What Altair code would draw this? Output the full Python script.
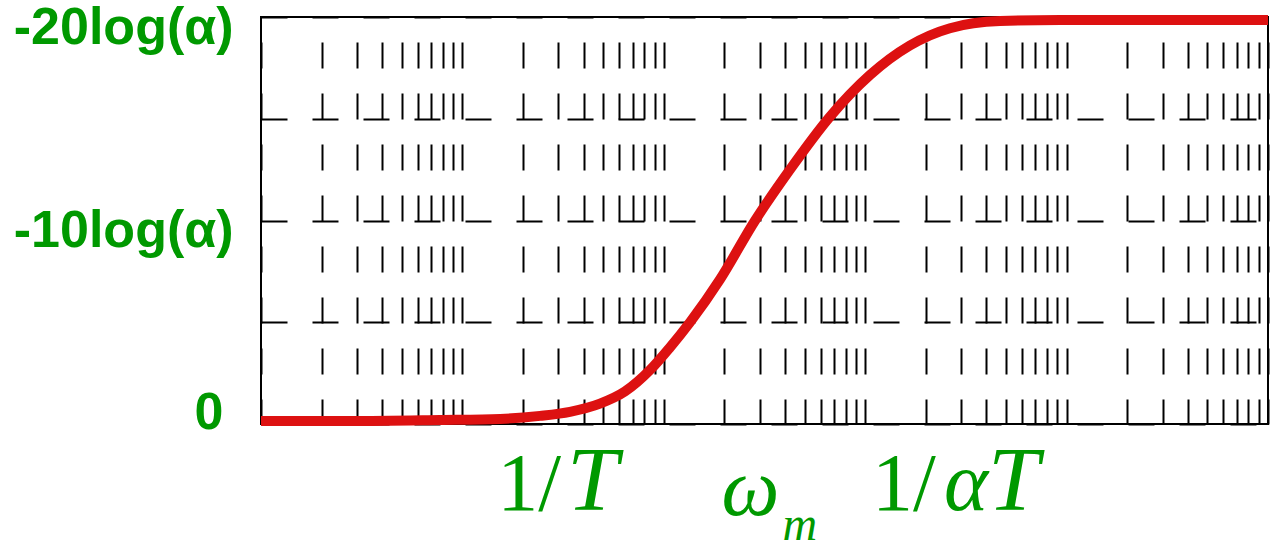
import altair as alt
import pandas as pd

GREEN = "#009900"
RED = "#dd1111"

# Gain curve of the compensator: frequency (rad/s, log axis) vs. gain in units of log(alpha)
freq = [1, 2.77, 7.74, 15.4, 24.3, 34.2, 48.2, 64.2, 85.4, 107, 135, 190, 284,
        423, 668, 1056, 1667, 2636, 4670, 9270, 100000]
gain = [0.15, 0.15, 0.2, 0.25, 0.4, 0.6, 1.0, 1.6, 2.65, 3.75, 5.0, 7.1, 10.0,
        12.5, 15.1, 17.15, 18.6, 19.45, 19.8, 19.85, 19.85]

# Gridline positions
decades = [1, 10, 100, 1000, 10000]
multipliers = [1, 2, 3, 4, 5, 6, 7, 8, 9]
x_grid = [m * d for d in decades for m in multipliers] + [100000]
y_grid = [0, 5, 10, 15, 20]
y_labels = {0: "0", 10: "-10log(\u03b1)", 20: "-20log(\u03b1)"}

# Characteristic frequencies marked under the axis
f_corner_low = 31.6     # 1/T
f_max = 316             # omega_m
f_corner_high = 3162    # 1/(alpha T)

xscale = alt.Scale(type="log", domain=[1, 100000], nice=False)
yscale = alt.Scale(domain=[0, 20], nice=False)

label_expr = " : ".join(
    f"datum.value == {k} ? '{v}'" for k, v in y_labels.items()
) + " : ''"

x_axis = alt.Axis(values=x_grid, labels=False, ticks=False, domain=False,
                  grid=True, gridDash=[26, 25], gridDashOffset=26,
                  gridColor="black", gridWidth=2, title="")

curve = alt.Chart(pd.DataFrame({"freq": freq, "gain": gain})).mark_line(
    color=RED, strokeWidth=10, interpolate="monotone"
).encode(
    x=alt.X("freq:Q", scale=xscale, title="", axis=x_axis),
    y=alt.Y("gain:Q", scale=yscale, title="",
            axis=alt.Axis(values=y_grid, labelExpr=label_expr, ticks=False,
                          domain=False, grid=True, gridDash=[26, 25],
                          gridColor="black", gridWidth=2, title="",
                          labelFont="Liberation Sans", labelFontSize=52,
                          labelFontWeight="bold", labelColor=GREEN,
                          labelLimit=0,
                          labelPadding={"condition": {"test": "datum.value == 0", "value": 38}, "value": 28},
                          labelOffset={"condition": {"test": "datum.value == 0", "value": -12}, "value": 10})),
)


def piece(text, f, dx, dy, size, style, align="left"):
    return alt.Chart(pd.DataFrame({"freq": [f], "t": [text]})).mark_text(
        dx=dx, dy=dy, fontSize=size, fontStyle=style, font="Liberation Serif",
        color=GREEN, align=align, baseline="alphabetic"
    ).encode(
        x=alt.X("freq:Q", scale=xscale, title="", axis=x_axis),
        y=alt.value(493),
        text="t:N",
    )


labels = [
    piece("1/", f_corner_low, -2, 0, 82, "normal", "right"),
    piece("T", f_corner_low, 4, 0, 92, "italic"),
    piece("\u03c9", f_max, -43, 5, 82, "italic"),
    piece("m", f_max, 18, 30, 48, "italic"),
    piece("1/", f_corner_high, -30, 0, 82, "normal", "right"),
    piece("\u03b1", f_corner_high, -22, 0, 84, "italic"),
    piece("T", f_corner_high, 22, 0, 92, "italic"),
]

chart = alt.layer(curve, *labels).properties(
    width=1007,
    height=407,
    autosize=alt.AutoSizeParams(type="none"),
    padding={"left": 261, "top": 17, "right": 16, "bottom": 129},
    background="white",
).configure_view(stroke="black", strokeWidth=2)

chart.save("out.html", embed_options={"renderer": "svg", "actions": False})
